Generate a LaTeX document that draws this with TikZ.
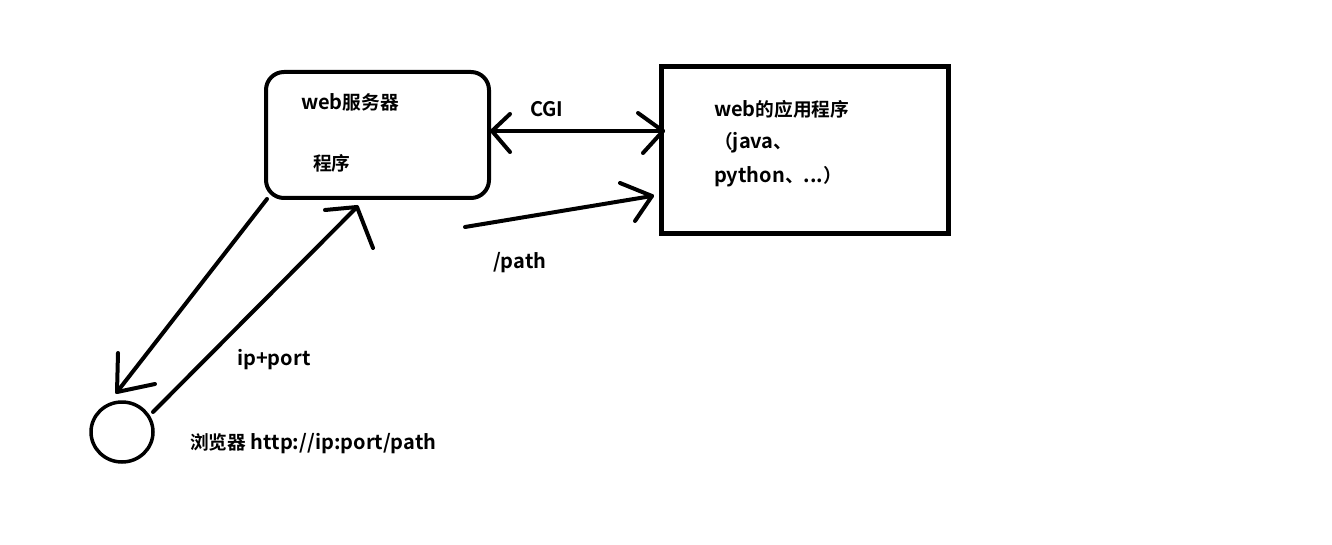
\documentclass[tikz,border=0pt]{standalone}
\usepackage{fontspec}
\setmainfont{Noto Sans CJK SC}[Scale=1.07,BoldFont={Noto Sans CJK SC Bold}]
\newfontfamily\cjk{Noto Sans CJK SC}[BoldFont={Noto Sans CJK SC Bold}]
\usetikzlibrary{shapes.geometric}
\begin{document}
\begin{tikzpicture}[x=1pt,y=-1pt,
  stroke/.style={line width=4pt,line cap=round,line join=round},
  lbl/.style={anchor=base west,inner sep=0pt,font=\fontsize{18.7pt}{22pt}\selectfont\bfseries},
  boxA/.style={draw,stroke,rounded corners=18pt,inner sep=0pt,outer sep=0pt},
  boxB/.style={draw,line width=5pt,inner sep=0pt,outer sep=0pt}]
\useasboundingbox (0,0) rectangle (1332,545);
\fill[white] (0,0) rectangle (1332,545);
% boxes
\node[boxA,minimum width=223pt,minimum height=126pt,anchor=north west] (srv) at (266,72) {};
\node[boxB,minimum width=287pt,minimum height=167pt,anchor=north west] (app) at (661,67) {};
\node[draw,stroke,line width=3.5pt,ellipse,minimum width=62pt,minimum height=60pt,inner sep=0pt,outer sep=0pt] (brw) at (122,432) {};
% labels
\node[lbl] (t1) at (301,110) {web{\cjk 服务器}};
\node[lbl] (t2) at (313,171) {\cjk 程序};
\node[lbl] (t3) at (530,117) {CGI};
\node[lbl] (t4) at (714,117) {web{\cjk 的应用程序}};
\node[lbl] (t5) at (714,149) {{\cjk （}java{\cjk 、}};
\node[lbl] (t6) at (714,183) {python{\cjk 、}...{\cjk ）}};
\node[lbl] (t7) at (493,269) {/path};
\node[lbl] (t8) at (237,365) {ip+port};
\node[lbl] (t9) at (190,449) {{\cjk 浏览器} http://ip:port/path};
% connector end points
\coordinate (cgiL) at (492,131);
\coordinate (cgiR) at (663,131);
\coordinate (pS) at (465,227);
\coordinate (pE) at (652,196);
\coordinate (dS) at (267,199);
\coordinate (dE) at (117,392);
\coordinate (uS) at (153,412);
\coordinate (uE) at (357,207);
% CGI double arrow
\draw[stroke] (cgiL) -- (cgiR);
\draw[stroke] (cgiL) ++(18,-17) -- (cgiL) -- ++(18,21);
\draw[stroke] (cgiR) ++(-25,-18) -- (cgiR) -- ++(-20,22);
% /path arrow
\draw[stroke] (pS) -- (pE);
\draw[stroke] (pE) ++(-32,-13) -- (pE) -- ++(-17,25);
% server to browser
\draw[stroke] (dS) -- (dE);
\draw[stroke] (dE) ++(1,-39) -- (dE) -- ++(38,-8);
% browser to server
\draw[stroke] (uS) -- (uE);
\draw[stroke] (uE) ++(-32,3) -- (uE) -- ++(16,41);
\end{tikzpicture}
\end{document}
